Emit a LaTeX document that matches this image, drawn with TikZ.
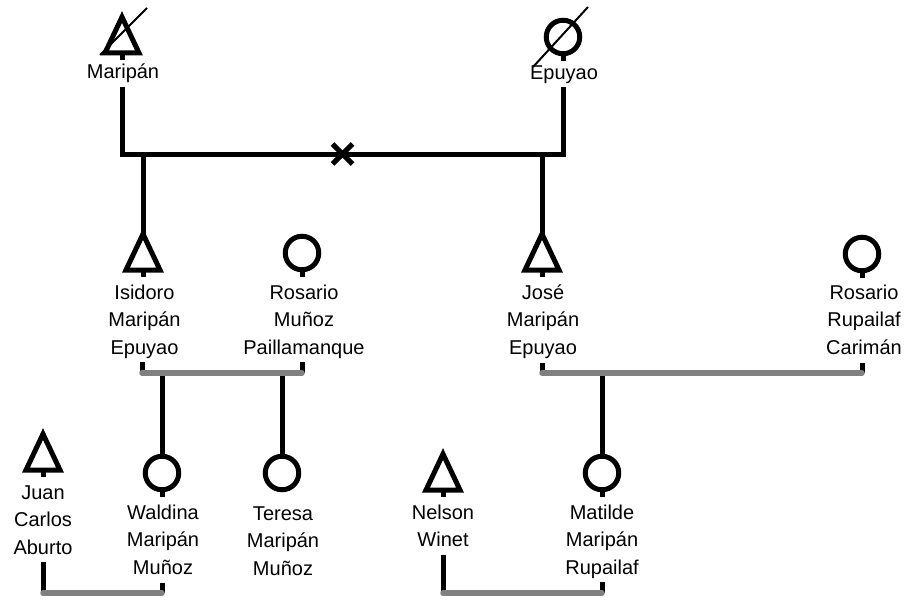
\documentclass[tikz,border=0pt]{standalone}
\usepackage{fontspec}
\setmainfont{Liberation Sans}
\begin{document}
\begin{tikzpicture}[x=1pt,y=-1pt,
  kin/.style={line width=5pt, black},
  sym/.style={line width=5pt, black, miter limit=10},
  couple/.style={line width=5.5pt, draw=marriagegray, line cap=round},
  strike/.style={line width=2pt, black},
  lbl/.style={anchor=base, inner sep=0pt, font=\fontsize{20}{27.5}\selectfont},
  male/.pic={
    \draw[sym] (-17,0) -- (17,0) -- (0,-36) -- cycle;
    \coordinate (-apex) at (0,-36);
    \draw[kin] (0,0) -- (0,7);
  },
  female/.pic={
    \draw[sym] (0,0) circle[radius=16.75];
    \coordinate (-apex) at (0,-16.75);
    \draw[kin] (0,16.75) -- (0,24);
  },
  femalebare/.pic={
    \draw[sym] (0,0) circle[radius=16.75];
    \coordinate (-apex) at (0,-16.75);
  }
]
\definecolor{marriagegray}{HTML}{808080}
\useasboundingbox (0,0) rectangle (909,599);

% ---------- first generation ----------
\pic (maripan) at (122,53) {male};
\pic (epuyao)  at (563,37) {female};
\draw[strike] (100,55) -- (147,8);
\draw[strike] (533,67) -- (588,7);
\node[lbl] (tmaripan) at (123,79) {Maripán};
\node[lbl] (tepuyao)  at (564,80) {Epuyao};

\coordinate (maripanline) at (122,87);
\coordinate (epuyaoline)  at (563,87);
\coordinate (u0) at (342.5,154);
\draw[kin] (maripanline) -- (maripanline |- u0) -- (epuyaoline |- u0) -- (epuyaoline);
% divorce mark
\draw[kin] (u0) ++(-10,-10) -- ++(20,20);
\draw[kin] (u0) ++(-10,10) -- ++(20,-20);

% ---------- second generation ----------
\pic (isidoro) at (143,270) {male};
\pic (rosariom) at (302,253) {female};
\pic (jose) at (542,270) {male};
\pic (rosarior) at (862,254) {female};

\draw[kin] (isidoro-apex |- u0) -- (isidoro-apex);
\draw[kin] (jose-apex |- u0) -- (jose-apex);

\node[lbl] (tisidoro) at (144.5,299) {\begin{tabular}[t]{@{}c@{}}Isidoro\\Maripán\\Epuyao\end{tabular}};
\node[lbl] (trosariom) at (304,299) {\begin{tabular}[t]{@{}c@{}}Rosario\\Muñoz\\Paillamanque\end{tabular}};
\node[lbl] (tjose) at (543,299) {\begin{tabular}[t]{@{}c@{}}José\\Maripán\\Epuyao\end{tabular}};
\node[lbl] (trosarior) at (864,299) {\begin{tabular}[t]{@{}c@{}}Rosario\\Rupailaf\\Carimán\end{tabular}};

% marriage bars
\coordinate (u1) at (222,373);
\coordinate (u2) at (702,373);
\draw[kin] (142,362) -- (142,373);
\draw[kin] (302,362) -- (302,373);
\draw[kin] (542,363) -- (542,373);
\draw[kin] (862,363) -- (862,373);

% ---------- third generation ----------
\pic (juan) at (43,470) {male};
\pic (waldina) at (162,473) {female};
\pic (teresa) at (282,473) {femalebare};
\pic (nelson) at (443,490) {male};
\pic (matilde) at (602,473) {female};

\draw[kin] (waldina-apex |- u1) -- (waldina-apex);
\draw[kin] (teresa-apex |- u1) -- (teresa-apex);
\draw[kin] (matilde-apex |- u2) -- (matilde-apex);

\draw[couple] (142,373) -- (302,373);
\draw[couple] (542,373) -- (862,373);

\node[lbl] (tjuan) at (43,499) {\begin{tabular}[t]{@{}c@{}}Juan\\Carlos\\Aburto\end{tabular}};
\node[lbl] (twaldina) at (163,519) {\begin{tabular}[t]{@{}c@{}}Waldina\\Maripán\\Muñoz\end{tabular}};
\node[lbl] (tteresa) at (283,520) {\begin{tabular}[t]{@{}c@{}}Teresa\\Maripán\\Muñoz\end{tabular}};
\node[lbl] (tnelson) at (443,519) {\begin{tabular}[t]{@{}c@{}}Nelson\\Winet\end{tabular}};
\node[lbl] (tmatilde) at (602,519) {\begin{tabular}[t]{@{}c@{}}Matilde\\Maripán\\Rupailaf\end{tabular}};

\draw[kin] (43,562) -- (43,593);
\draw[kin] (162,583) -- (162,593);
\draw[kin] (443,555) -- (443,593);
\draw[kin] (602,582) -- (602,593);
\draw[couple] (43,593) -- (162,593);
\draw[couple] (443,593) -- (602,593);
\end{tikzpicture}
\end{document}
